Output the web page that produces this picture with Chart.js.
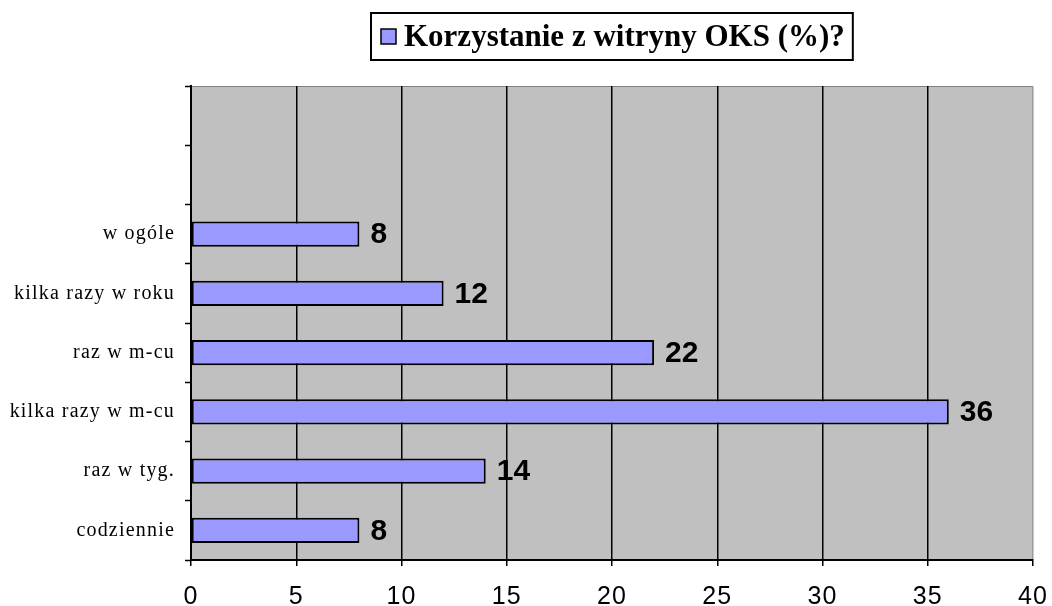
<!DOCTYPE html>
<html lang="pl">
<head>
<meta charset="utf-8">
<title>Korzystanie z witryny OKS</title>
<script src="https://cdn.jsdelivr.net/npm/chart.js@4.4.0/dist/chart.umd.min.js"></script>
<style>
  html, body { margin: 0; padding: 0; background: #fff; }
  #wrap { width: 1052px; height: 606px; }
</style>
</head>
<body>
<div id="wrap"><canvas id="oksChart" width="1052" height="606"></canvas></div>
<script>
// --- Datos del gráfico ---
const categories = ['', '', 'w ogóle', 'kilka razy w roku', 'raz w m-cu', 'kilka razy w m-cu', 'raz w tyg.', 'codziennie'];
const percentValues = [null, null, 8, 12, 22, 36, 14, 8];
const xTicks = [0, 5, 10, 15, 20, 25, 30, 35, 40];
const seriesLabel = 'Korzystanie z witryny OKS (%)?';

const BAR_COLOR = '#9999FF';
const PLOT_BG = '#C0C0C0';

/**
 * Fondo gris del área de trazado + espaciado de letras para las etiquetas del eje Y.
 */
const plotBackground = {
  id: 'plotBackground',
  beforeDraw(chart) {
    const { ctx, chartArea: a } = chart;
    ctx.save();
    ctx.fillStyle = PLOT_BG;
    ctx.fillRect(a.left, a.top, a.right - a.left, a.bottom - a.top);
    ctx.strokeStyle = '#808080';
    ctx.lineWidth = 1;
    ctx.strokeRect(a.left + 0.5, a.top + 0.5, a.right - a.left - 1, a.bottom - a.top - 1);
    ctx.restore();
    ctx.letterSpacing = '1.2px';
  },
  beforeDatasetsDraw(chart) {
    chart.ctx.letterSpacing = '0px';
  }
};

/**
 * Dibuja el valor junto al final de cada barra.
 */
const valueLabels = {
  id: 'valueLabels',
  afterDatasetsDraw(chart) {
    const { ctx } = chart;
    const meta = chart.getDatasetMeta(0);
    ctx.save();
    ctx.font = 'bold 30px "Liberation Sans", Arial, sans-serif';
    ctx.fillStyle = '#000';
    ctx.textAlign = 'left';
    ctx.textBaseline = 'middle';
    meta.data.forEach((bar, i) => {
      const v = percentValues[i];
      if (v === null) return;
      ctx.fillText(String(v), bar.x + 11, bar.y + 1);
    });
    ctx.restore();
  }
};

/**
 * Leyenda con marco, centrada sobre el área de trazado.
 */
const boxedLegend = {
  id: 'boxedLegend',
  afterDraw(chart) {
    const { ctx, chartArea: a } = chart;
    ctx.save();
    ctx.font = 'bold 31px "Liberation Serif", "Times New Roman", serif';
    const textW = ctx.measureText(seriesLabel).width;
    const boxW = 10 + 15 + 8 + textW + 8;
    const boxH = 47;
    const cx = (a.left + a.right) / 2;
    const left = Math.round(cx - boxW / 2);
    const top = 13;

    ctx.fillStyle = '#fff';
    ctx.fillRect(left, top, boxW, boxH);
    ctx.strokeStyle = '#000';
    ctx.lineWidth = 2;
    ctx.strokeRect(left, top, boxW, boxH);

    // cuadrito de color
    ctx.fillStyle = BAR_COLOR;
    ctx.fillRect(left + 10, top + 16, 15, 15);
    ctx.lineWidth = 1.5;
    ctx.strokeRect(left + 10, top + 16, 15, 15);

    ctx.fillStyle = '#000';
    ctx.textAlign = 'left';
    ctx.textBaseline = 'middle';
    ctx.fillText(seriesLabel, left + 33, top + boxH / 2 + 1);
    ctx.restore();
  }
};

function renderChart() {
  const canvas = document.getElementById('oksChart');
  if (!canvas) return;

  new Chart(canvas, {
    type: 'bar',
    data: {
      labels: categories,
      datasets: [{
        label: seriesLabel,
        data: percentValues,
        backgroundColor: BAR_COLOR,
        borderColor: '#000',
        borderWidth: 2,
        borderSkipped: false,
        categoryPercentage: 1,
        barPercentage: 0.43
      }]
    },
    options: {
      indexAxis: 'y',
      responsive: false,
      animation: false,
      layout: { padding: { top: 86, right: 19, left: 0, bottom: 0 } },
      scales: {
        x: {
          min: 0,
          max: 40,
          afterBuildTicks: (scale) => { scale.ticks = xTicks.map(v => ({ value: v })); },
          afterFit: (scale) => {
            scale.height = 46;
            // sin margen extra por las etiquetas de los extremos
            scale.paddingLeft = 0;
            scale.paddingRight = 0;
          },
          grid: {
            color: (c) => (c.tick && c.tick.value === 40 ? '#9a9a9a' : '#000'),
            lineWidth: 1.5,
            drawTicks: true,
            tickLength: 6,
            tickColor: '#000',
            tickWidth: 1.5
          },
          border: { color: '#000', width: 2 },
          ticks: {
            padding: 16,
            color: '#000',
            font: { family: '"Liberation Sans", Arial, sans-serif', size: 25 }
          }
        },
        y: {
          afterFit: (scale) => { scale.width = 191; },
          grid: {
            drawOnChartArea: false,
            drawTicks: true,
            tickLength: 6,
            tickColor: '#000',
            tickWidth: 1.5,
            offset: true
          },
          border: { color: '#000', width: 2 },
          ticks: {
            padding: 10,
            color: '#000',
            autoSkip: false,
            font: { family: '"Liberation Serif", "Times New Roman", serif', size: 20 }
          }
        }
      },
      plugins: {
        legend: { display: false },
        tooltip: { enabled: false }
      }
    },
    plugins: [plotBackground, valueLabels, boxedLegend]
  });
}

// --- Inicialización ---
document.addEventListener('DOMContentLoaded', renderChart);
</script>
</body>
</html>
